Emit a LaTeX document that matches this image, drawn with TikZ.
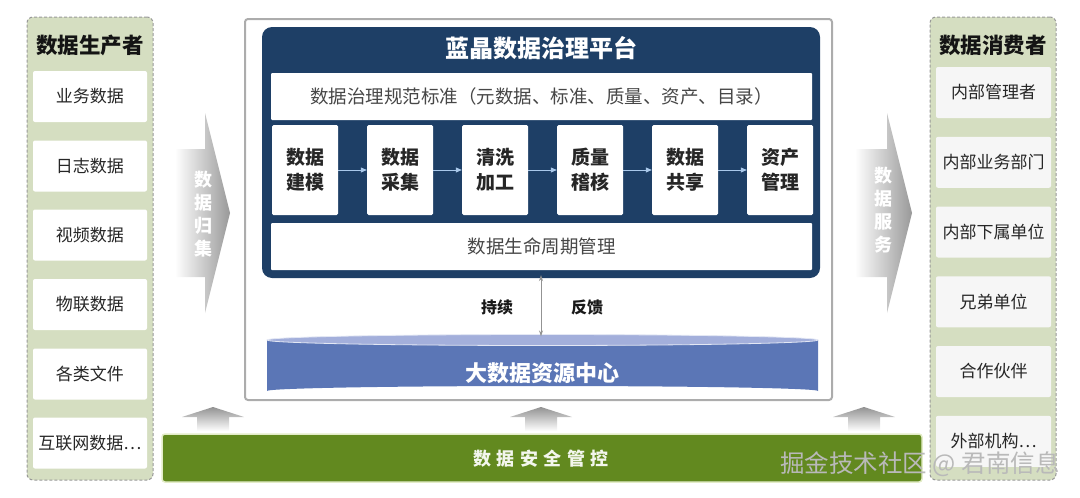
\documentclass[tikz,border=0pt]{standalone}
\usepackage{fontspec}
\setmainfont{Noto Sans CJK SC}
\usetikzlibrary{arrows.meta,shapes.geometric}
\definecolor{panelfill}{HTML}{D5DEC1}
\definecolor{navy}{HTML}{1E3F66}
\definecolor{secgreen}{HTML}{62891F}
\definecolor{secedge}{HTML}{E3ECC8}
\definecolor{cylbody}{HTML}{5B76B6}
\definecolor{cyltop}{HTML}{A3AFDB}
\definecolor{flowblue}{HTML}{A9C8EA}
\definecolor{txt}{HTML}{262626}
\begin{document}
\begin{tikzpicture}[x=1pt,y=-1pt,
  panel/.style={draw=gray!80, dash pattern=on 3pt off 2pt, fill=panelfill, rounded corners=6, line width=1, minimum width=126, minimum height=463, inner sep=0},
  ptitle/.style={font=\bfseries\fontsize{21.5}{24}\selectfont, text=black!92, inner sep=0},
  srcbox/.style={fill=white, rounded corners=2, minimum width=114, minimum height=51, inner sep=0, font=\fontsize{17}{20}\selectfont, text=txt},
  dstbox/.style={srcbox, fill=gray!7, minimum width=115},
  procbox/.style={fill=white, rounded corners=1.5, minimum width=66, minimum height=90, inner sep=0, align=center, font=\bfseries\fontsize{19}{25}\selectfont, text=txt},
  strip/.style={fill=white, rounded corners=1, minimum width=541, minimum height=47, inner sep=0, font=\fontsize{18.5}{20}\selectfont, text=black!72},
  flow/.style={draw=flowblue, line width=0.8, -{Triangle[length=6pt,width=5pt]}},
  sidetext/.style={text=white, align=center, inner sep=0, font=\bfseries\fontsize{18}{23}\selectfont},
  upshade/.style={top color=gray!85, bottom color=white, draw=none}
]
\useasboundingbox (0,0) rectangle (1080,498);

% ---------- left panel ----------
\node[panel] (prod) at (90,248.5) {};
\node[ptitle] (prodt) at (90,45) {数据生产者};
\node[srcbox] (s1) at (90,96.5) {业务数据};
\node[srcbox] (s2) at (90,166) {日志数据};
\node[srcbox] (s3) at (90,235) {视频数据};
\node[srcbox] (s4) at (90,304.5) {物联数据};
\node[srcbox] (s5) at (90,374) {各类文件};
\node[srcbox] (s6) at (90,443) {互联网数据…};

% ---------- right panel ----------
\node[panel] (cons) at (993,248.5) {};
\node[ptitle] (const) at (993,45) {数据消费者};
\node[dstbox] (d1) at (993.5,92.5) {内部管理者};
\node[dstbox] (d2) at (993.5,162.3) {内部业务部门};
\node[dstbox] (d3) at (993.5,232) {内部下属单位};
\node[dstbox] (d4) at (993.5,301.8) {兄弟单位};
\node[dstbox] (d5) at (993.5,371.5) {合作伙伴};
\node[dstbox] (d6) at (993.5,441.3) {外部机构…};

% ---------- side arrows ----------
\shade[left color=white, right color=gray!80] (175,149) -- (205,149) -- (205,113) -- (230,213) -- (205,313) -- (205,277) -- (175,277) -- cycle;
\node[sidetext] (collect) at (203,214) {数\\据\\归\\集};
\shade[left color=white, right color=gray!80] (855,149) -- (887,149) -- (887,113) -- (912,213) -- (887,313) -- (887,277) -- (855,277) -- cycle;
\node[sidetext] (serve) at (883,210) {数\\据\\服\\务};

% ---------- main frame ----------
\node[draw=gray!65, line width=2, rounded corners=3, minimum width=587, minimum height=381, inner sep=0] (frame) at (538.5,209.5) {};
\node[fill=navy, rounded corners=10, minimum width=558, minimum height=251, inner sep=0] (plat) at (541,152.5) {};
\node[text=white, inner sep=0, font=\bfseries\fontsize{24}{26}\selectfont] (platt) at (541,48) {蓝晶数据治理平台};
\node[strip] (std) at (541.5,96.5) {数据治理规范标准（元数据、标准、质量、资产、目录）};
\node[procbox] (p1) at (305,170) {数据\\建模};
\node[procbox] (p2) at (400,170) {数据\\采集};
\node[procbox] (p3) at (495,170) {清洗\\加工};
\node[procbox] (p4) at (590,170) {质量\\稽核};
\node[procbox] (p5) at (685,170) {数据\\共享};
\node[procbox] (p6) at (780,170) {资产\\管理};
\draw[flow] (p1) -- (p2);
\draw[flow] (p2) -- (p3);
\draw[flow] (p3) -- (p4);
\draw[flow] (p4) -- (p5);
\draw[flow] (p5) -- (p6);
\node[strip] (life) at (541.5,246.5) {数据生命周期管理};

% ---------- cylinder ----------
\fill[cylbody] (267,340) -- (267,391) arc[start angle=180, end angle=360, x radius=275.5, y radius=5] -- (818,340) -- cycle;
\fill[cyltop, draw=white!70!cyltop, line width=0.8] (542.5,340) ellipse[x radius=275.5, y radius=5.5];
\node[minimum width=551, minimum height=57, inner sep=0] (cyl) at (542.5,364) {};
\node[text=white, inner sep=0, font=\bfseries\fontsize{22}{24}\selectfont] (cylt) at (542.5,373) {大数据资源中心};
\draw[gray!85, line width=0.7, {Stealth[length=6pt,width=4pt]}-{Stealth[length=6pt,width=4pt]}] ([yshift=3pt]plat.south) -- ([yshift=-1pt]plat.south |- cyl.north);
\node[inner sep=0, font=\bfseries\fontsize{16}{18}\selectfont, text=black!90] (cont) at (497,307) {持续};
\node[inner sep=0, font=\bfseries\fontsize{16}{18}\selectfont, text=black!90] (feed) at (587,307) {反馈};

% ---------- up arrows ----------
\foreach \cx/\nm in {213/ua, 541/ub, 864/uc}{
  \coordinate (\nm) at (\cx,431);
  \shade[upshade] (\cx-16,431) -- (\cx-16,417) -- (\cx-31,417) -- (\cx,407) -- (\cx+31,417) -- (\cx+16,417) -- (\cx+16,431) -- cycle;
}

% ---------- security bar ----------
\node[fill=secgreen, draw=secedge, line width=1.5, rounded corners=3, minimum width=760, minimum height=48, inner sep=0] (sec) at (542,458) {};
\node[text=white!92!secgreen, inner sep=0, font=\bfseries\fontsize{18}{20}\selectfont] (sect) at (541,459) {数\hspace{5.5pt}据\hspace{5.5pt}安\hspace{5.5pt}全\hspace{5.5pt}管\hspace{5.5pt}控};

% ---------- watermark ----------
\node[text=gray!55, inner sep=0, font=\fontsize{24.5}{26}\selectfont] (wm) at (920,464) {掘金技术社区 @ 君南信息};
\end{tikzpicture}
\end{document}
